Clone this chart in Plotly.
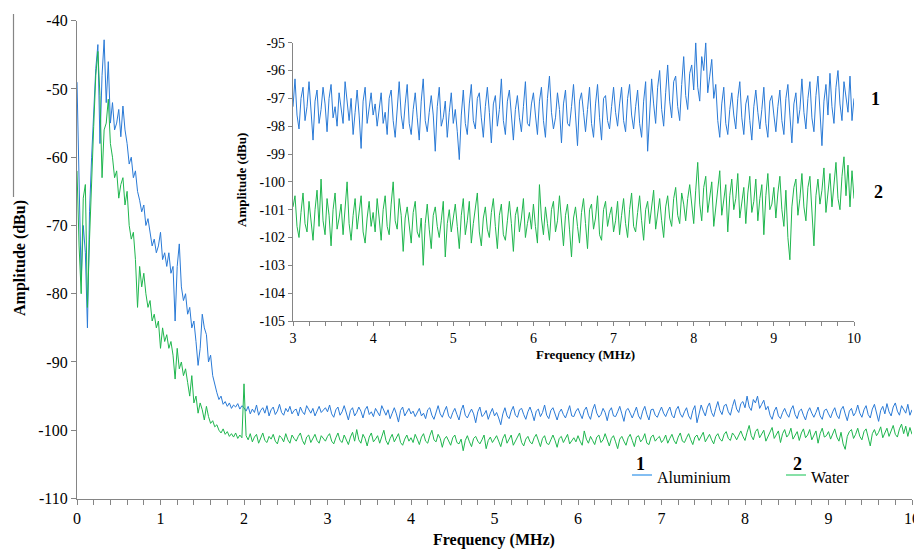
import plotly.graph_objects as go

# ---------------- data ----------------
freq_step_mhz = 0.025
n_points = 401
frequency_mhz = [round(i * freq_step_mhz, 3) for i in range(n_points)]

aluminium_dbu = [
    # 0.000 - 2.000 MHz
    -49, -63, -78, -70, -74, -85, -68, -60, -53, -47,
    -43.5, -58, -48, -42.8, -52, -46, -55, -52, -56, -55,
    -53, -57, -52.5, -56, -58, -61, -60, -63, -62, -65,
    -66.3, -68, -67, -70, -69, -71, -73, -72, -74, -73,
    -71, -75, -74, -76, -74, -77, -76, -84, -76, -72.7,
    -79, -81, -80, -83, -82, -85, -84, -87, -90.5, -88,
    -83, -85, -86, -90, -89, -92, -93.5, -94.5, -95.5, -95,
    -96.2, -95.8, -96.5, -96, -96.8, -96.3, -96.6, -96.1, -96.9, -96.4,
    -96.7,
    # 2.025 - 3.000
    -97.2, -96.5, -97.6, -96.9, -97.4, -96.3, -97.8, -97.1, -96.7, -97.5,
    -96.4, -97.9, -97.0, -96.6, -97.7, -97.2, -96.2, -97.4, -97.8, -96.8,
    -97.3, -96.5, -97.6, -97.1, -96.9, -97.9, -96.6, -97.3, -97.7, -96.4,
    -97.0, -97.5, -96.8, -97.9, -97.2, -96.5, -97.4, -97.0, -96.7, -97.3,
    # 3.025 - 4.000
    -96.3, -97.6, -98.1, -97.0, -96.6, -97.8, -97.3, -96.4, -97.5, -98.5,
    -97.1, -96.7, -97.9, -97.4, -96.6, -97.2, -98.2, -97.0, -96.5, -97.7,
    -97.3, -98.0, -96.8, -97.4, -97.9, -96.4, -97.2, -97.8, -97.0, -98.3,
    -97.5, -96.7, -97.6, -98.8, -97.1, -96.6, -97.9, -97.3, -96.8, -97.6,
    # 4.025 - 5.000
    -97.2, -98.0, -97.4, -96.8, -97.9, -97.5, -98.3, -97.0, -96.7, -97.8,
    -98.4, -97.3, -96.4, -97.6, -98.1, -97.2, -96.5, -97.9, -98.3, -97.4,
    -96.8, -97.7, -98.5, -97.1, -96.3, -97.8, -98.2, -97.5, -96.9, -97.6,
    -98.9, -97.3, -96.6, -98.0, -97.7, -97.1, -98.4, -97.5, -96.8, -97.9,
    # 5.025 - 6.000
    -97.4, -98.2, -99.2, -97.6, -96.7, -97.9, -98.3, -97.2, -96.5, -97.8,
    -98.1, -97.0, -96.8, -97.7, -98.4, -97.3, -96.6, -97.5, -98.6, -97.2,
    -96.9, -98.0, -97.4, -96.3, -97.8, -98.3, -97.1, -96.7, -97.6, -98.5,
    -97.4, -96.9, -97.7, -98.2, -97.3, -96.4, -97.9, -98.0, -97.2, -96.8,
    # 6.025 - 7.000
    -97.6, -98.3, -97.1, -96.6, -97.8, -98.4, -97.0, -96.2, -97.5, -98.1,
    -97.7, -96.8, -97.4, -98.6, -97.2, -96.7, -97.9, -98.0, -97.3, -96.5,
    -97.6, -98.7, -97.1, -96.8, -97.5, -98.2, -97.4, -96.6, -97.9, -98.4,
    -97.2, -96.5, -97.7, -98.5, -97.0, -96.9, -97.8, -98.1, -97.3, -96.6,
    # 7.025 - 8.000
    -97.5, -98.0, -97.2, -96.6, -97.8, -98.2, -97.0, -96.5, -97.6, -98.1,
    -97.3, -96.7, -97.9, -98.4, -97.1, -96.4, -98.9, -97.5, -96.3, -97.2,
    -97.9, -96.6, -96.0, -97.4, -98.0, -96.8, -95.8, -97.1, -97.7, -96.4,
    -96.2, -97.3, -97.8, -96.5, -95.5, -96.9, -97.4, -96.1, -95.8, -96.7,
    # 8.025 - 9.000
    -95.0, -96.6, -97.1, -95.5, -96.0, -95.0, -96.8, -96.2, -95.6, -97.0,
    -96.5, -97.8, -98.4, -97.2, -96.6, -97.9, -98.3, -97.4, -96.8, -97.6,
    -98.1, -97.0, -96.4, -97.7, -98.3, -97.2, -96.9, -97.8, -98.5, -97.3,
    -96.7, -97.5, -98.1, -97.4, -96.6, -97.9, -98.4, -97.1, -96.9, -97.6,
    # 9.025 - 10.000
    -98.2, -97.3, -96.7, -97.8, -98.3, -97.0, -96.5, -97.6, -98.6, -97.2,
    -96.8, -97.9, -97.4, -96.3, -97.5, -98.1, -97.0, -96.4, -97.7, -98.2,
    -96.9, -96.2, -97.4, -98.7, -97.1, -96.5, -97.6, -96.1, -97.3, -97.9,
    -96.6, -96.0, -97.2, -97.8, -96.4, -96.9, -97.5, -96.2, -97.8, -97.0,
]

water_dbu = [
    # 0.000 - 2.000 MHz
    -62, -73, -80, -66, -64, -82, -72, -62, -55.5, -48,
    -44.5, -51, -63, -56, -55, -51.5, -58, -60, -63, -62,
    -66, -64, -63, -67, -65, -70, -72, -71, -75, -82,
    -76, -79, -77, -80, -82, -81, -84, -83, -85, -84,
    -88, -85, -87, -86, -88, -87, -89, -92.5, -88, -91,
    -90, -92, -91, -93, -95, -92, -96, -95, -97.5, -96,
    -97, -98.5, -96.5, -98, -99, -98.6, -99.5, -99.2, -100, -100.4,
    -99.8, -100.6, -100.2, -100.9, -100.5, -101, -100.4, -101.2, -100.7, -101.1,
    -93.2,
    # 2.025 - 3.000
    -100.8, -101.4, -100.5, -101.7, -101.0, -100.6, -101.9, -101.2, -100.4, -101.5,
    -101.8, -100.9, -101.3, -100.6, -101.6, -102.0, -100.8, -101.1, -101.7, -100.5,
    -101.4, -101.9, -100.7, -101.2, -101.6, -100.9, -100.4, -101.5, -102.1, -101.0,
    -100.7, -101.8, -101.3, -100.6, -101.5, -101.9, -100.8, -101.2, -101.6, -100.9,
    # 3.025 - 4.000
    -100.5, -101.6, -102.0, -101.1, -100.4, -101.5, -101.8, -100.7, -101.3, -102.1,
    -101.0, -100.3, -101.6, -99.9, -101.4, -101.9, -100.6, -101.2, -102.3, -101.0,
    -100.4, -101.7, -101.3, -100.8, -101.9, -101.1, -100.0, -101.5, -102.1, -101.2,
    -100.6, -101.7, -101.0, -100.5, -101.8, -102.2, -101.3, -100.7, -101.6, -101.1,
    # 4.025 - 5.000
    -101.8, -100.6, -101.3, -102.1, -101.0, -100.5, -101.6, -101.9, -100.8, -100.0,
    -101.4, -101.7, -100.6, -101.2, -102.5, -101.3, -100.9, -101.6, -102.2, -101.1,
    -100.7, -101.8, -102.0, -101.3, -103.0, -101.5, -100.8, -101.7, -102.4, -101.2,
    -100.9, -101.6, -102.0, -101.4, -100.7, -102.7, -101.5, -101.0, -101.8, -101.3,
    # 5.025 - 6.000
    -100.8, -101.6, -102.4, -101.2, -100.6, -101.9, -101.4, -100.7, -102.2, -101.5,
    -101.0, -100.4, -101.8, -102.3, -101.3, -100.9, -101.7, -102.0, -101.1, -100.6,
    -101.6, -102.4, -101.2, -100.8, -101.9, -102.1, -101.4, -100.7, -101.5, -102.5,
    -101.2, -100.9, -101.8, -101.3, -100.6, -102.0, -101.5, -101.1, -101.7, -100.8,
    # 6.025 - 7.000
    -101.6, -102.2, -100.1, -101.3, -101.9, -100.9, -101.5, -102.1, -101.0, -100.7,
    -101.8, -101.4, -100.5, -101.6, -102.3, -101.2, -100.8, -101.7, -102.7, -101.3,
    -100.9, -101.6, -102.2, -101.1, -100.6, -101.5, -102.4, -101.0, -100.8, -101.7,
    -101.3, -100.5, -101.9, -102.1, -101.0, -100.7, -101.6, -101.2, -100.9, -101.8,
    # 7.025 - 8.000
    -101.4, -100.7, -101.9, -101.2, -100.6, -101.5, -102.0, -101.0, -100.4, -101.6,
    -101.8, -101.1, -100.5, -101.4, -102.1, -101.0, -100.7, -101.5, -100.9, -100.3,
    -101.7, -101.2, -100.6, -101.4, -102.0, -100.9, -100.5, -101.3, -101.6, -100.6,
    -100.2, -101.2, -101.5, -100.4, -100.8, -101.4, -100.6, -100.1, -100.9, -101.5,
    # 8.025 - 9.000
    -100.3, -99.3, -100.8, -101.4, -100.2, -99.8, -101.1, -100.6, -100.0, -101.6,
    -100.9, -100.3, -99.6, -101.2, -100.7, -100.1, -101.8, -100.5, -99.9, -101.0,
    -100.6, -99.7, -101.3, -100.8, -100.2, -101.5, -100.4, -99.8, -101.1, -100.7,
    -99.9, -101.4, -100.6, -100.1, -101.9, -100.5, -99.7, -101.0, -100.8, -100.2,
    # 9.025 - 10.000
    -101.3, -100.4, -99.8, -101.0, -101.6, -100.3, -102.0, -102.8, -100.9, -100.2,
    -99.9, -101.2, -100.6, -99.7, -100.9, -101.4, -100.2, -99.8, -101.0, -102.3,
    -100.5, -99.9, -100.8, -100.3, -99.5, -101.1, -100.4, -99.7, -100.9, -100.2,
    -99.3, -100.6, -101.0, -99.8, -99.1, -100.5, -99.4, -100.9, -99.6, -100.6,
]

assert len(aluminium_dbu) == n_points, len(aluminium_dbu)
assert len(water_dbu) == n_points, len(water_dbu)

series_names = ["Aluminium", "Water"]
series_labels = ["1", "2"]
inset_start_mhz = 3.0

main_x_range = [0, 10]
main_y_range = [-110, -40]
inset_x_range = [3, 10]
inset_y_range = [-105, -95]

main_x_ticks = list(range(0, 11))
main_y_ticks = list(range(-110, -39, 10))
inset_x_ticks = list(range(3, 11))
inset_y_ticks = list(range(-105, -94))

# ---------------- styling ----------------
# The page body has an 8px margin, so the figure is drawn 8px in from the
# window's top-left corner; size it to fill the rest of the 922x549 window.
OFF = 8
W, H = 922 - OFF, 549 - OFF
BLUE = "#2a7ad6"
GREEN = "#1fb64e"
BLUE_LEG = "#5aa8ee"
GREEN_LEG = "#5fd68a"
AXIS = "#858585"
SERIF = "Liberation Serif"


def fx(px):
    """window pixel x -> paper fraction"""
    return (px - OFF) / W


def fy(py):
    """window pixel y -> paper fraction"""
    return 1 - (py - OFF) / H


def labels(vals):
    return [str(v) for v in vals]  # plain hyphen minus as in the original


inset_idx = [i for i, f in enumerate(frequency_mhz) if f >= inset_start_mhz]
inset_freq = [frequency_mhz[i] for i in inset_idx]
inset_al = [aluminium_dbu[i] for i in inset_idx]
inset_wa = [water_dbu[i] for i in inset_idx]

fig = go.Figure()
fig.add_trace(go.Scatter(x=frequency_mhz, y=aluminium_dbu, mode="lines",
                         line=dict(color=BLUE, width=1), name=series_names[0],
                         xaxis="x", yaxis="y"))
fig.add_trace(go.Scatter(x=frequency_mhz, y=water_dbu, mode="lines",
                         line=dict(color=GREEN, width=1), name=series_names[1],
                         xaxis="x", yaxis="y"))
fig.add_trace(go.Scatter(x=inset_freq, y=inset_al, mode="lines",
                         line=dict(color=BLUE, width=1), name=series_names[0],
                         xaxis="x2", yaxis="y2"))
fig.add_trace(go.Scatter(x=inset_freq, y=inset_wa, mode="lines",
                         line=dict(color=GREEN, width=1), name=series_names[1],
                         xaxis="x2", yaxis="y2"))

axis_common = dict(showgrid=False, zeroline=False, showline=True, linecolor=AXIS,
                   linewidth=1.2, ticks="outside", tickcolor=AXIS, mirror=False,
                   automargin=False)

fig.update_layout(
    template="none",
    width=W, height=H,
    margin=dict(l=0, r=0, t=0, b=0, pad=0, autoexpand=False),
    paper_bgcolor="white", plot_bgcolor="rgba(0,0,0,0)",
    showlegend=False,
    font=dict(family=SERIF, color="black"),
    xaxis=dict(domain=[fx(77), fx(912)], range=main_x_range,
               tickvals=main_x_ticks, ticktext=labels(main_x_ticks),
               ticklen=5, tickfont=dict(size=16, family=SERIF, color="black"),
               minor=dict(dtick=0.2, ticks="outside", ticklen=5, tickcolor=AXIS),
               anchor="y", **axis_common),
    yaxis=dict(domain=[fy(498.5), fy(20.7)], range=main_y_range,
               tickvals=main_y_ticks, ticktext=labels(main_y_ticks),
               ticklen=5, tickfont=dict(size=16, family=SERIF, color="black"),
               anchor="x", **axis_common),
    xaxis2=dict(domain=[fx(293), fx(854)], range=inset_x_range,
                tickvals=inset_x_ticks, ticktext=labels(inset_x_ticks),
                ticklen=4, tickfont=dict(size=14, family=SERIF, color="black"),
                minor=dict(dtick=0.2, ticks="outside", ticklen=4, tickcolor=AXIS),
                anchor="y2", **axis_common),
    yaxis2=dict(domain=[fy(321), fy(42.7)], range=inset_y_range,
                tickvals=inset_y_ticks, ticktext=labels(inset_y_ticks),
                ticklen=4, tickfont=dict(size=14, family=SERIF, color="black"),
                anchor="x2", **axis_common),
)

annotations = [
    dict(text="<b>Frequency (MHz)</b>", x=fx(494), y=fy(540), font=dict(size=16)),
    dict(text="<b>Amplitude (dBu)</b>", x=fx(20), y=fy(258), textangle=-90,
         font=dict(size=16)),
    dict(text="<b>Frequency (MHz)</b>", x=fx(585), y=fy(354), font=dict(size=13)),
    dict(text="<b>Amplitude (dBu)</b>", x=fx(241), y=fy(180), textangle=-90,
         font=dict(size=13)),
    dict(text="<b>" + series_labels[0] + "</b>", x=fx(875), y=fy(99), font=dict(size=18)),
    dict(text="<b>" + series_labels[1] + "</b>", x=fx(878), y=fy(192), font=dict(size=18)),
    dict(text="<b>" + series_labels[0] + "</b>", x=fx(640), y=fy(464), font=dict(size=18)),
    dict(text=series_names[0], x=fx(655), y=fy(477), xanchor="left", font=dict(size=16)),
    dict(text="<b>" + series_labels[1] + "</b>", x=fx(797), y=fy(464), font=dict(size=18)),
    dict(text=series_names[1], x=fx(809), y=fy(477), xanchor="left", font=dict(size=16)),
]
for a in annotations:
    a.setdefault("xanchor", "center")
    a.update(xref="paper", yref="paper", yanchor="middle", showarrow=False)
    a["font"].setdefault("family", SERIF)
    a["font"].setdefault("color", "black")
fig.update_layout(annotations=annotations)

shapes = [
    dict(type="line", xref="paper", yref="paper", x0=fx(632), x1=fx(652),
         y0=fy(475), y1=fy(475), line=dict(color=BLUE_LEG, width=1.5)),
    dict(type="line", xref="paper", yref="paper", x0=fx(786), x1=fx(806),
         y0=fy(475), y1=fy(475), line=dict(color=GREEN_LEG, width=1.5)),
    dict(type="line", xref="paper", yref="paper", x0=fx(13.5), x1=fx(13.5),
         y0=fy(14), y1=fy(197), line=dict(color=AXIS, width=1.2)),
]
fig.update_layout(shapes=shapes)

fig.write_html("out.html")
